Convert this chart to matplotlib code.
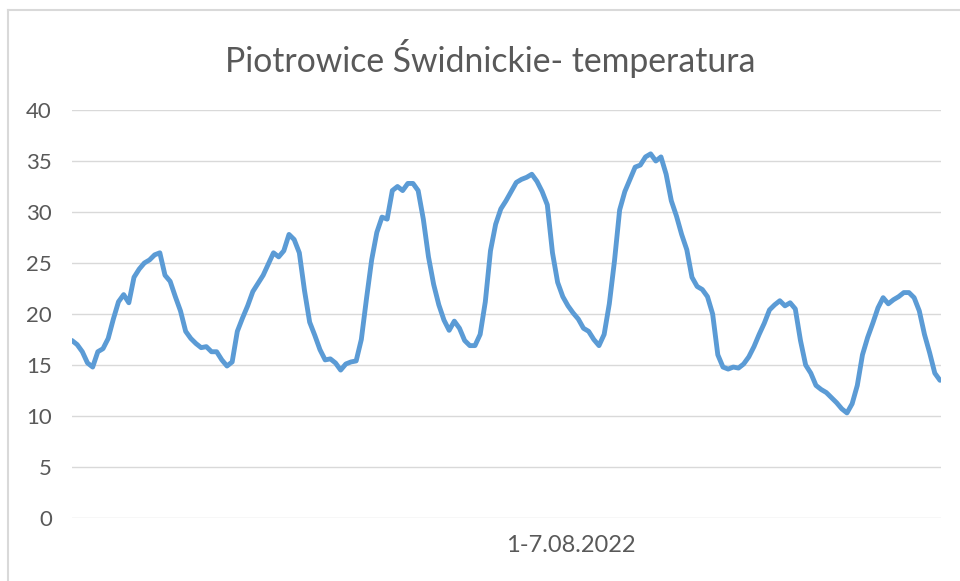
import matplotlib
matplotlib.use("Agg")
import matplotlib.pyplot as plt
import numpy as np

title = "Piotrowice Świdnickie- temperatura"
x_label = "1-7.08.2022"
y_ticks = [0, 5, 10, 15, 20, 25, 30, 35, 40]

# hourly temperatures, 1-7.08.2022
temperature = [
    17.4, 17.0, 16.3, 15.2, 14.8, 16.3, 16.6, 17.6, 19.5, 21.2,
    21.9, 21.1, 23.6, 24.4, 25.0, 25.3, 25.8, 26.0, 23.8, 23.2,
    21.7, 20.3, 18.3, 17.6, 17.1, 16.7, 16.8, 16.3, 16.3, 15.5,
    14.9, 15.3, 18.3, 19.6, 20.8, 22.2, 23.0, 23.8, 24.9, 26.0,
    25.6, 26.2, 27.8, 27.3, 26.0, 22.3, 19.2, 17.9, 16.5, 15.5,
    15.6, 15.2, 14.5, 15.1, 15.3, 15.4, 17.5, 21.5, 25.3, 28.0,
    29.5, 29.3, 32.1, 32.5, 32.1, 32.8, 32.8, 32.1, 29.3, 25.6,
    22.9, 20.9, 19.4, 18.4, 19.3, 18.6, 17.4, 16.9, 16.9, 18.0,
    21.2, 26.2, 28.8, 30.3, 31.1, 32.0, 32.9, 33.2, 33.4, 33.7,
    33.0, 32.0, 30.7, 26.0, 23.1, 21.7, 20.8, 20.1, 19.5, 18.6,
    18.3, 17.5, 16.9, 18.0, 21.0, 25.2, 30.2, 32.0, 33.2, 34.4,
    34.6, 35.4, 35.7, 35.0, 35.4, 33.7, 31.1, 29.6, 27.8, 26.3,
    23.6, 22.7, 22.4, 21.7, 20.0, 16.0, 14.8, 14.6, 14.8, 14.7,
    15.1, 15.8, 16.8, 18.0, 19.1, 20.4, 20.9, 21.3, 20.8, 21.1,
    20.5, 17.4, 15.0, 14.2, 13.0, 12.6, 12.3, 11.8, 11.3, 10.7,
    10.3, 11.2, 13.0, 16.0, 17.7, 19.1, 20.6, 21.6, 21.0, 21.4,
    21.7, 22.1, 22.1, 21.6, 20.3, 18.0, 16.2, 14.2, 13.5,
]
hours = np.arange(len(temperature))

plt.rcParams['font.family'] = ['Lato', 'DejaVu Sans']

W, H = 960, 581
fig = plt.figure(figsize=(W / 100, H / 100), dpi=100)
fig.patch.set_facecolor('white')

# outer chart frame (left and top edges visible)
fig.add_artist(plt.Line2D([7.5 / W, 7.5 / W], [0, 1 - 10 / H], transform=fig.transFigure,
                          color='#d9d9d9', lw=1.5))
fig.add_artist(plt.Line2D([7.5 / W, 1], [1 - 10 / H, 1 - 10 / H], transform=fig.transFigure,
                          color='#d9d9d9', lw=1.5))

left, right = 72 / W, 941 / W
bottom, top = 1 - 518 / H, 1 - 110 / H
ax = fig.add_axes([left, bottom, right - left, top - bottom])
ax.plot(hours, temperature, color='#5b9bd5', lw=3.5, solid_joinstyle='round', solid_capstyle='round')
ax.set_xlim(0, len(temperature) - 1 + 0.2)
ax.set_ylim(0, 40)
ax.set_yticks(y_ticks)
ax.set_xticks([])
ax.grid(axis='y', color='#d9d9d9', lw=1.0)
ax.set_axisbelow(True)
for s in ax.spines.values():
    s.set_visible(False)
ax.tick_params(axis='y', length=0, pad=14.5, labelsize=16, labelcolor='#595959')

fig.text(490 / W, 1 - 58 / H, title, ha='center', va='center', fontsize=24.3, color='#595959')
fig.text(571 / W, 1 - 545 / H, x_label, ha='center', va='center', fontsize=17, color='#595959')

fig.savefig('out.png', dpi=100, facecolor='white')
